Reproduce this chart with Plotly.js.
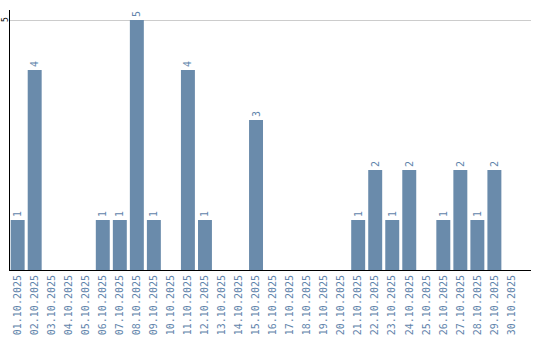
<!DOCTYPE html>
<html>
<head>
<meta charset="utf-8">
<script src="https://cdn.plot.ly/plotly-3.0.1.min.js"></script>
<style>html,body{margin:0;padding:0;background:#fff;}#chart{width:540px;height:340px;}</style>
</head>
<body>
<div id="chart"></div>
<script>
const dates = ["01.10.2025","02.10.2025","03.10.2025","04.10.2025","05.10.2025","06.10.2025","07.10.2025","08.10.2025","09.10.2025","10.10.2025","11.10.2025","12.10.2025","13.10.2025","14.10.2025","15.10.2025","16.10.2025","17.10.2025","18.10.2025","19.10.2025","20.10.2025","21.10.2025","22.10.2025","23.10.2025","24.10.2025","25.10.2025","26.10.2025","27.10.2025","28.10.2025","29.10.2025","30.10.2025"];
const counts = [1,4,0,0,0,1,1,5,1,0,4,1,0,0,3,0,0,0,0,0,1,2,1,2,0,1,2,1,2,0];
const yTicks = [5];

const labels = counts.map(v => v > 0 ? String(v) : "");
const barColor = "#6a8bab";
const textColor = "#5f84ab";
const fontFam = "DejaVu Sans Mono, monospace";

Plotly.newPlot("chart", [{
  type: "bar",
  x: dates,
  y: counts,
  text: labels,
  textposition: "outside",
  textangle: -90,
  cliponaxis: false,
  textfont: {family: fontFam, size: 10, color: textColor},
  marker: {color: barColor},
  hoverinfo: "none"
}], {
  width: 540, height: 340,
  margin: {l: 10, r: 9, t: 10, b: 70, pad: 0},
  paper_bgcolor: "#fff", plot_bgcolor: "#fff",
  bargap: 0.18,
  showlegend: false,
  font: {family: fontFam, size: 10, color: textColor},
  xaxis: {
    type: "category",
    range: [-0.45, 30.15],
    tickangle: -90,
    tickfont: {family: fontFam, size: 10, color: textColor},
    showline: true, linecolor: "#000", linewidth: 1,
    showgrid: false, zeroline: false, ticks: "", ticklen: 0
  },
  yaxis: {
    range: [0, 5.2],
    tickvals: yTicks,
    showticklabels: false,
    showline: true, linecolor: "#000", linewidth: 1,
    showgrid: true, gridcolor: "#cccccc", gridwidth: 1,
    zeroline: false, ticks: "", ticklen: 0
  },
  annotations: yTicks.map(v => ({
    xref: "paper", yref: "y", x: 0, y: v,
    text: String(v), showarrow: false,
    textangle: -90, xanchor: "center", yanchor: "middle",
    xshift: -5, borderpad: 0,
    font: {family: fontFam, size: 8, color: "#000"}
  }))
}, {displayModeBar: false, staticPlot: true});
</script>
</body>
</html>
